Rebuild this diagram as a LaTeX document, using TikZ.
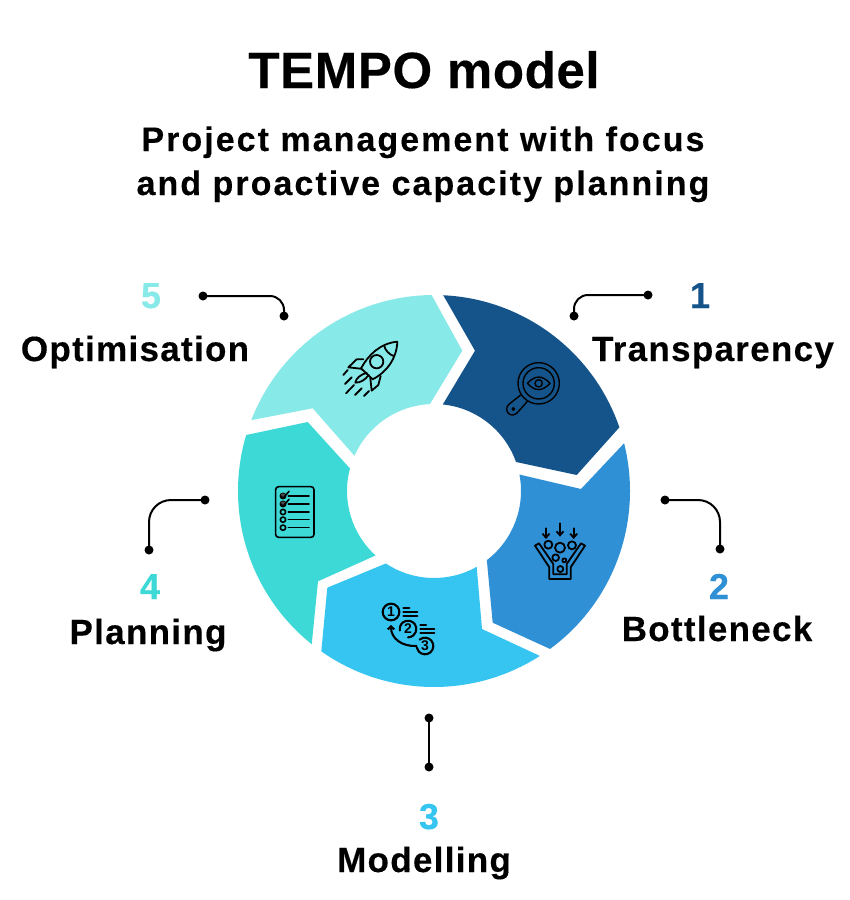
\documentclass[tikz,border=0pt]{standalone}
\usepackage{fontspec}
\setmainfont{Liberation Sans}[BoldFont={Liberation Sans Bold}]
\newfontfamily\titlefont{Liberation Sans Bold}[LetterSpace=1.2,FakeBold=0.3]
\newfontfamily\subfont{Liberation Sans Bold}[LetterSpace=6,FakeBold=0.3]
\newfontfamily\labelfont{Liberation Sans Bold}[LetterSpace=3.7,FakeBold=0.3]
\usetikzlibrary{arrows.meta}
\definecolor{cA}{HTML}{14548B}
\definecolor{cB}{HTML}{2F90D6}
\definecolor{cC}{HTML}{36C5F0}
\definecolor{cD}{HTML}{3DD9D6}
\definecolor{cE}{HTML}{88EAE8}
\tikzset{
  cen/.style={shift={(434,491)}},
  titletext/.style={inner sep=0pt,anchor=base,font=\titlefont\fontsize{51}{51}\selectfont},
  subtext/.style={inner sep=0pt,anchor=base,font=\subfont\fontsize{34}{34}\selectfont},
  labeltext/.style={inner sep=0pt,anchor=base,font=\labelfont\fontsize{35}{35}\selectfont},
  numtext/.style={inner sep=0pt,anchor=base,font=\labelfont\fontsize{36}{36}\selectfont},
  dot/.style={circle,fill=black,inner sep=0pt,minimum size=9pt},
  conn/.style={line width=2pt,rounded corners=22pt},
  icon/.style={line width=1.6pt,draw=black,line cap=round,line join=round},
  listnum/.style={inner sep=0pt,font=\bfseries\fontsize{14}{14}\selectfont}
}
\begin{document}
\begin{tikzpicture}[x=1pt,y=1pt,yscale=-1]
\useasboundingbox (0,0) rectangle (850,900);
\fill[white] (0,0) rectangle (850,900);
% ring
\fill[cA] ([cen]-87.3:196) arc[start angle=-87.3,end angle=-18.95,radius=196] -- (576.7,475) -- ([cen]-19.5:87) arc[start angle=-19.5,end angle=-84.2,radius=87] -- (475,350.7) -- cycle;
\fill[cB] ([cen]-14.1:196) arc[start angle=-14.1,end angle=53.7,radius=196] -- (492.7,622.7) -- ([cen]52.6:87) arc[start angle=52.6,end angle=-10.9,radius=87] -- (581,489) -- cycle;
\fill[cC] ([cen]57.3:196) arc[start angle=57.3,end angle=125.1,radius=196] -- (327.3,587.7) -- ([cen]123.6:87) arc[start angle=123.6,end angle=60.6,radius=87] -- (482,629) -- cycle;
\fill[cD] ([cen]128.6:196) arc[start angle=128.6,end angle=196.6,radius=196] -- (307.7,422) -- ([cen]195:87) arc[start angle=195,end angle=132.2,radius=87] -- (318,581.3) -- cycle;
\fill[cE] ([cen]201.2:196) arc[start angle=201.2,end angle=269.3,radius=196] -- (462.3,350.7) -- ([cen]267.3:87) arc[start angle=267.3,end angle=203.9,radius=87] -- (312.7,408.3) -- cycle;
% titles
\node[titletext] (title) at (424,88) {TEMPO model};
\node[subtext] (subA) at (423,151) {Project management with focus};
\node[subtext] (subB) at (423,195) {and proactive capacity planning};
% labels
\node[numtext,text=cA] (n1) at (700,308) {1};
\node[labeltext] (l1) at (713,361) {Transparency};
\node[numtext,text=cB] (n2) at (719,599) {2};
\node[labeltext] (l2) at (717,641) {Bottleneck};
\node[numtext,text=cC] (n3) at (429,829) {3};
\node[labeltext] (l3) at (424,872) {Modelling};
\node[numtext,text=cD] (n4) at (150,599) {4};
\node[labeltext] (l4) at (148,644) {Planning};
\node[numtext,text=cE] (n5) at (151,308) {5};
\node[labeltext] (l5) at (135,361) {Optimisation};
% connectors
\node[dot] (a1) at (574,316) {}; \node[dot] (b1) at (648,295) {};
\draw[conn,rounded corners=14pt] (a1.center) -- (574,295) -- (b1.center);
\node[dot] (a2) at (665,500) {}; \node[dot] (b2) at (720,549) {};
\draw[conn] (a2.center) -- (720,500) -- (b2.center);
\node[dot] (a3) at (429,718) {}; \node[dot] (b3) at (429,767) {};
\draw[conn] (a3.center) -- (b3.center);
\node[dot] (a4) at (205,500) {}; \node[dot] (b4) at (149,550) {};
\draw[conn] (a4.center) -- (149,500) -- (b4.center);
\node[dot] (a5) at (203,296) {}; \node[dot] (b5) at (284,316) {};
\draw[conn,rounded corners=14pt] (a5.center) -- (284,296) -- (b5.center);
% rocket
\begin{scope}[shift={(230,280)},scale=1/3,icon,line width=1.8pt]
\draw (502,185) .. controls (450,190) and (415,225) .. (393,265) -- (428,298) .. controls (472,275) and (500,235) .. (502,185);
\draw (463,198) .. controls (465,210) and (478,224) .. (491,228);
\draw (440,245) circle (20);
\draw (400,238) -- (380,238) -- (355,262) -- (392,266);
\draw (452,288) -- (445,315) -- (425,332) -- (421,295);
\draw (410,278) .. controls (390,285) and (378,295) .. (376,308) .. controls (392,308) and (405,300) .. (416,285);
\draw (340,285) -- (353,270);
\draw (345,312) -- (365,292);
\draw (348,340) -- (372,315);
\draw (375,345) -- (395,325);
\draw (402,348) -- (417,333);
\end{scope}
% magnifier with eye
\begin{scope}[shift={(430,280)},scale=1/3,icon,line width=1.4pt]
\draw (326,310) circle (62);
\draw (326,310) circle (47);
\draw (292,310) .. controls (315,285) and (337,285) .. (360,310) .. controls (337,335) and (315,335) .. (292,310) -- cycle;
\draw (326,310) circle (11);
\draw (272,345) -- (238,372) .. controls (228,380) and (228,392) .. (235,400) .. controls (243,408) and (255,406) .. (263,397) -- (293,363);
\draw (250,387) circle (4);
\end{scope}
% funnel
\begin{scope}[shift={(480,440)},scale=1/3,icon,line width=1.8pt]
\draw[-{Straight Barb[length=4pt,width=7pt]}] (198,265) -- (198,297);
\draw[-{Straight Barb[length=4pt,width=7pt]}] (240,250) -- (240,290);
\draw[-{Straight Barb[length=4pt,width=7pt]}] (281,265) -- (281,297);
\draw (205,314) circle (12);
\draw (240,323) circle (15);
\draw (276,316) circle (12);
\draw (227,353) circle (10);
\draw (253,361) circle (6);
\draw (241,387) circle (9);
\draw (177,310) -- (165,317) -- (208,382) -- (208,417) -- (272,417) -- (272,382) -- (315,317) -- (303,310) -- (260,372) -- (260,403) -- (220,403) -- (220,372) -- cycle;
\end{scope}
% numbered list
\begin{scope}[shift={(310,550)},scale=1/3,icon,line width=2.1pt]
\draw (243,186) circle (25);
\draw (294,237) ++(170:25) arc[start angle=170,end angle=450,radius=25];
\draw (345,288) ++(230:25) arc[start angle=230,end angle=530,radius=25];
\node[listnum] (i1) at (243,186) {1};
\node[listnum] (i2) at (294,237) {2};
\node[listnum] (i3) at (345,288) {3};
\draw (280,173) -- (298,173); \draw (280,186) -- (322,186); \draw (280,198) -- (322,198);
\draw (331,224) -- (348,224); \draw (331,237) -- (373,237); \draw (331,249) -- (373,249);
\draw[-{Straight Barb[length=3pt,width=6.5pt]}] (320,288) .. controls (275,290) and (243,265) .. (243,225);
\end{scope}
% clipboard
\begin{scope}[shift={(230,410)},scale=1/3,icon]
\draw[rounded corners=3pt] (137,230) rectangle (252,382);
\foreach \yy in {258,282,306,329,353} {
  \draw (159,\yy) circle (8);
  \draw (175,\yy) -- (237,\yy);
}
\fill[black!70] (159,258) circle (8);
\fill[black!70] (159,282) circle (8);
\draw (152,258) -- (159,265) -- (177,244);
\draw (152,282) -- (159,289) -- (177,268);
\end{scope}
\end{tikzpicture}
\end{document}
